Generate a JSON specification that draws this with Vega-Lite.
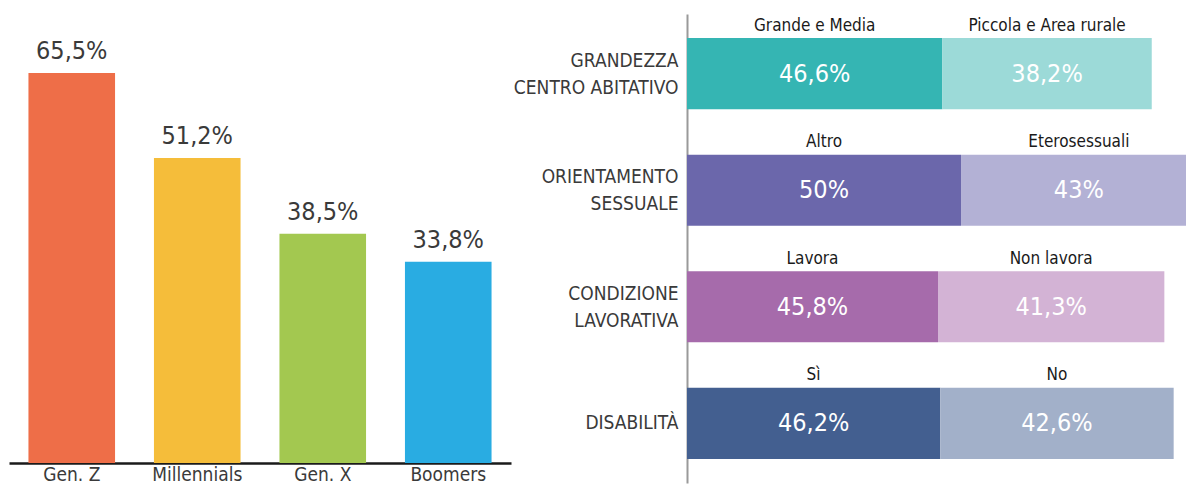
{
  "$schema": "https://vega.github.io/schema/vega-lite/v6.json",
  "padding": {"left": 9, "top": 14, "right": 0, "bottom": 0},
  "bounds": "flush",
  "spacing": 176,
  "resolve": {"scale": {"color": "independent"}},
  "config": {
    "view": {"stroke": null},
    "font": "DejaVu Sans Condensed, Roboto, sans-serif",
    "text": {"font": "DejaVu Sans Condensed, Roboto, sans-serif"},
    "axis": {"labelFont": "DejaVu Sans Condensed, Roboto, sans-serif"}
  },
  "datasets": {
    "gen": [
      {"gen": "Gen. Z", "value": 65.5, "label": "65,5%"},
      {"gen": "Millennials", "value": 51.2, "label": "51,2%"},
      {"gen": "Gen. X", "value": 38.5, "label": "38,5%"},
      {"gen": "Boomers", "value": 33.8, "label": "33,8%"}
    ],
    "seg": [
      {"group": "GRANDEZZA|CENTRO ABITATIVO", "cat": "Grande e Media", "value": 46.6, "label": "46,6%", "order": 1},
      {"group": "GRANDEZZA|CENTRO ABITATIVO", "cat": "Piccola e Area rurale", "value": 38.2, "label": "38,2%", "order": 2},
      {"group": "ORIENTAMENTO|SESSUALE", "cat": "Altro", "value": 50, "label": "50%", "order": 1},
      {"group": "ORIENTAMENTO|SESSUALE", "cat": "Eterosessuali", "value": 43, "label": "43%", "order": 2},
      {"group": "CONDIZIONE|LAVORATIVA", "cat": "Lavora", "value": 45.8, "label": "45,8%", "order": 1},
      {"group": "CONDIZIONE|LAVORATIVA", "cat": "Non lavora", "value": 41.3, "label": "41,3%", "order": 2},
      {"group": "DISABILITÀ", "cat": "Sì", "value": 46.2, "label": "46,2%", "order": 1},
      {"group": "DISABILITÀ", "cat": "No", "value": 42.6, "label": "42,6%", "order": 2}
    ]
  },
  "hconcat": [
    {
      "width": 502,
      "height": 449,
      "data": {"name": "gen"},
      "encoding": {
        "x": {
          "field": "gen", "type": "nominal", "sort": null,
          "scale": {"paddingInner": 0.31, "paddingOuter": 0.155},
          "axis": {"title": null, "ticks": false, "labelAngle": 0, "labelFontSize": 19, "labelColor": "#3a3a3a", "labelPadding": 2, "domainColor": "#1a1a1a", "domainWidth": 2.5}
        },
        "y": {
          "field": "value", "type": "quantitative",
          "scale": {"domain": [0, 75.4], "nice": false},
          "axis": null
        }
      },
      "layer": [
        {
          "mark": {"type": "bar"},
          "encoding": {
            "color": {
              "field": "gen", "type": "nominal", "legend": null,
              "scale": {"domain": ["Gen. Z", "Millennials", "Gen. X", "Boomers"], "range": ["#EE6E48", "#F5BD3A", "#A3C850", "#29ACE2"]}
            }
          }
        },
        {
          "mark": {"type": "text", "baseline": "alphabetic", "dy": -14, "fontSize": 25, "color": "#3a3a3a"},
          "encoding": {"text": {"field": "label"}}
        }
      ]
    },
    {
      "width": 499,
      "height": 469,
      "data": {"name": "seg"},
      "transform": [
        {"stack": "value", "groupby": ["group"], "sort": [{"field": "order"}], "as": ["v0", "v1"]}
      ],
      "encoding": {
        "y": {
          "field": "group", "type": "nominal", "sort": null,
          "scale": {"paddingInner": 0.39, "paddingOuter": 0.206},
          "axis": {
            "title": null, "ticks": false, "labelFontSize": 19, "labelColor": "#3a3a3a", "labelPadding": 9, "labelLimit": 300, "labelLineHeight": 27,
            "labelExpr": "split(datum.label, '|')",
            "labelOffset": {"condition": {"test": "indexof(datum.value, '|') >= 0", "value": -13}, "value": 0},
            "domainColor": "#9a9a9a", "domainWidth": 2
          }
        }
      },
      "layer": [
        {
          "mark": {"type": "bar", "clip": true},
          "encoding": {
            "x": {"field": "v0", "type": "quantitative", "scale": {"domain": [0, 91.05], "nice": false}, "axis": null},
            "x2": {"field": "v1"},
            "color": {
              "field": "cat", "type": "nominal", "legend": null,
              "scale": {
                "domain": ["Grande e Media", "Piccola e Area rurale", "Altro", "Eterosessuali", "Lavora", "Non lavora", "Sì", "No"],
                "range": ["#35B5B3", "#9CDAD8", "#6B67AB", "#B3B1D5", "#A66BAB", "#D3B3D5", "#435F90", "#A2B0C9"]
              }
            }
          }
        },
        {
          "transform": [{"fold": ["v0", "v1"], "as": ["k", "pos"]}],
          "mark": {"type": "text", "fontSize": 25, "color": "white", "baseline": "middle"},
          "encoding": {
            "x": {"aggregate": "mean", "field": "pos", "type": "quantitative"},
            "text": {"field": "label"},
            "detail": {"field": "cat"}
          }
        },
        {
          "transform": [{"fold": ["v0", "v1"], "as": ["k", "pos"]}],
          "mark": {"type": "text", "fontSize": 17, "color": "#1a1a1a", "baseline": "middle", "dy": -48},
          "encoding": {
            "x": {"aggregate": "mean", "field": "pos", "type": "quantitative"},
            "text": {"field": "cat"}
          }
        }
      ]
    }
  ]
}
